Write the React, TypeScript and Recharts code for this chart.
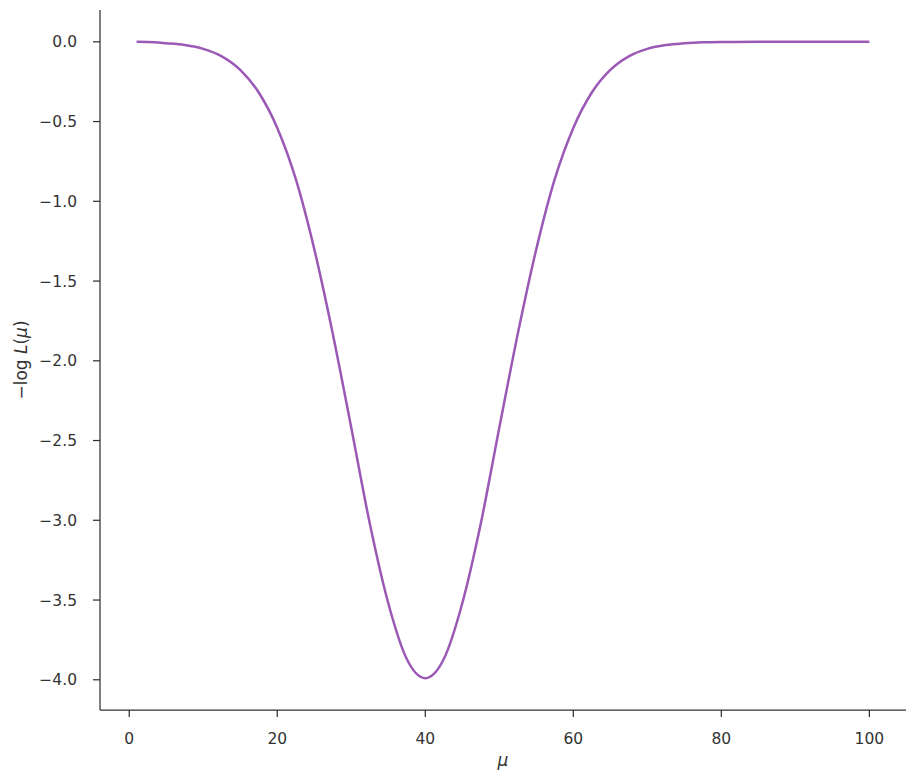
import React from 'react';
import { Line, LineChart, XAxis, YAxis } from 'recharts';

// mu values along the x axis
const muValues = [
  1, 2.5, 5, 7.5, 10, 12.5, 15, 17.5, 20, 22.5, 25, 27.5, 30, 32.5, 35, 37.5, 40,
  42.5, 45, 47.5, 50, 52.5, 55, 57.5, 60, 62.5, 65, 67.5, 70, 72.5, 75, 77.5, 80,
  85, 90, 95, 100,
];

// -log L(mu)
const negLogL = [
  0.0, -0.001, -0.009, -0.02, -0.044, -0.091, -0.176, -0.318, -0.54, -0.86, -1.3, -1.83,
  -2.42, -3.02, -3.52, -3.87, -3.99,
  -3.87, -3.52, -3.02, -2.42, -1.83, -1.3, -0.86, -0.54, -0.318, -0.176, -0.091, -0.044,
  -0.02, -0.009, -0.003, -0.001,
  0.0, 0.0, 0.0, 0.0,
];

const xTicks = [0, 20, 40, 60, 80, 100];
const yTicks = [0, -0.5, -1, -1.5, -2, -2.5, -3, -3.5, -4];

const data = muValues.map((mu, i) => ({ mu, value: negLogL[i] }));

const INK = '#333333';
const FONT = '"DejaVu Sans", sans-serif';

const fmtY = (v: number) => {
  const s = Math.abs(v).toFixed(1);
  return v < 0 ? `\u2212${s}` : s;
};

const YLabel = () => (
  <text
    x={21}
    y={360}
    transform="rotate(-90 21 360)"
    textAnchor="middle"
    dominantBaseline="central"
    fill={INK}
    fontSize={17}
    fontFamily={FONT}
  >
    {'\u2212log '}
    <tspan fontStyle="italic">L</tspan>(
    <tspan fontStyle="italic">{'\u03bc'}</tspan>)
  </text>
);

const XLabel = () => (
  <text
    x={503}
    y={760}
    textAnchor="middle"
    dominantBaseline="central"
    fill={INK}
    fontSize={17}
    fontStyle="italic"
    fontFamily={FONT}
  >
    {'\u03bc'}
  </text>
);

export default function App() {
  return (
    <div style={{ position: 'absolute', left: 0, top: 0, width: 916, height: 781, background: '#fff' }}>
      <LineChart
        width={916}
        height={781}
        data={data}
        margin={{ top: 10, right: 10, left: 10, bottom: 0 }}
      >
        <XAxis
          dataKey="mu"
          type="number"
          domain={[-3.95, 104.95]}
          ticks={xTicks}
          allowDataOverflow
          height={71}
          tickSize={7}
          tickMargin={16}
          stroke={INK}
          axisLine={{ stroke: INK, strokeWidth: 1.25 }}
          tickLine={{ stroke: INK, strokeWidth: 1.25 }}
          tick={{ fill: INK, fontSize: 15.5, fontFamily: FONT }}
          label={<XLabel />}
        />
        <YAxis
          type="number"
          domain={[-4.1895, 0.1995]}
          ticks={yTicks}
          allowDataOverflow
          width={90}
          tickSize={7}
          tickMargin={16}
          tickFormatter={fmtY}
          stroke={INK}
          axisLine={{ stroke: INK, strokeWidth: 1.25 }}
          tickLine={{ stroke: INK, strokeWidth: 1.25 }}
          tick={{ fill: INK, fontSize: 15.5, fontFamily: FONT }}
          label={<YLabel />}
        />
        <Line
          type="monotone"
          dataKey="value"
          stroke="#9b59b6"
          strokeWidth={2.5}
          dot={false}
          activeDot={false}
          isAnimationActive={false}
        />
      </LineChart>
    </div>
  );
}
